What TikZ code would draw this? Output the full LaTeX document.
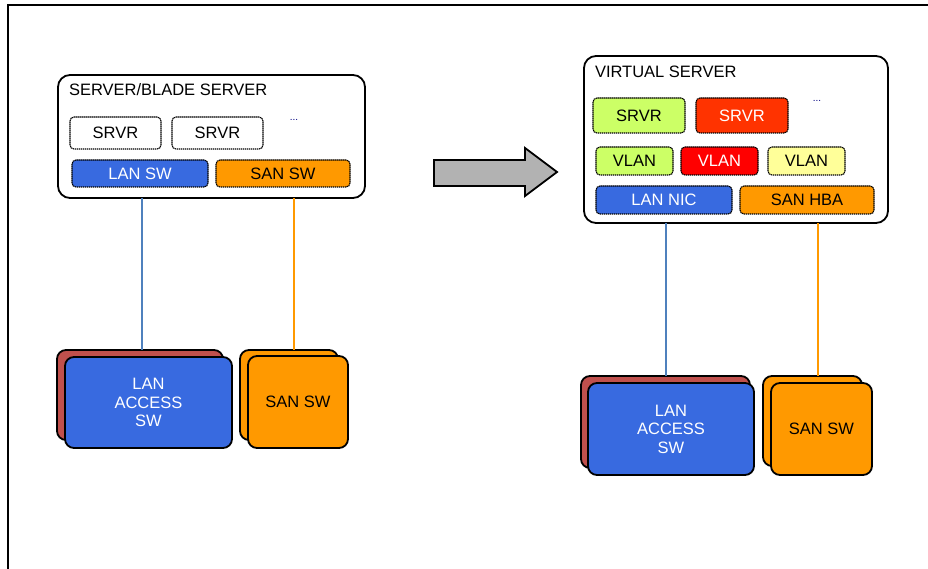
\documentclass[tikz,border=0pt]{standalone}
\usepackage{fontspec}
\setmainfont{Liberation Sans}
\usepackage{xcolor}
\usetikzlibrary{positioning}
\definecolor{lanblue}{RGB}{56,106,224}
\definecolor{sanorange}{RGB}{255,153,0}
\definecolor{brick}{RGB}{192,80,77}
\definecolor{lime}{RGB}{204,255,102}
\definecolor{srvred}{RGB}{255,51,0}
\definecolor{vlanred}{RGB}{255,0,0}
\definecolor{paleyellow}{RGB}{255,255,153}
\definecolor{lineblue}{RGB}{79,129,189}
\definecolor{arrowgray}{RGB}{178,178,178}

\begin{document}
\begin{tikzpicture}[x=1pt,y=-1pt,every node/.style={font=\fontsize{16.5}{18.5}\selectfont,outer sep=0pt,inner sep=0pt},
    hostbox/.style={draw,line width=1.8pt,rounded corners=12pt},
    unitbox/.style={draw,line width=1.1pt,dash pattern=on 1.4pt off 0.6pt,rounded corners=4pt},
    stackbox/.style={draw,line width=1.8pt,rounded corners=9pt},
    link/.style={line width=1.8pt}]
    \useasboundingbox (0,0) rectangle (928,569);
    \draw[line width=1.2pt] (8,569) -- (8,5) -- (928,5);

    % physical server
    \node[hostbox,minimum width=307pt,minimum height=123pt] (lsrv) at (211.5,136.5) {};
    \node[anchor=west] (ltitle) at (69,90) {SERVER/BLADE SERVER};
    \node[unitbox,minimum width=91pt,minimum height=32pt] (srvra) at (115.5,133) {SRVR};
    \node[unitbox,minimum width=91pt,minimum height=32pt] (srvrb) at (217.5,133) {SRVR};
    \node[text=blue!50!black,font=\fontsize{10}{11}\selectfont] (ldots) at (294,120) {...};
    \node[unitbox,fill=lanblue,text=white,minimum width=136pt,minimum height=27pt] (lansw) at (140,173.5) {LAN SW};
    \node[unitbox,fill=sanorange,minimum width=134pt,minimum height=27pt] (sansw) at (283,173.5) {SAN SW};

    \node[stackbox,fill=brick,minimum width=166pt,minimum height=90pt] (laccb) at (140,395) {};
    \node[stackbox,fill=lanblue,text=white,align=center,minimum width=167pt,minimum height=91pt] (laccf) at (148.5,402.5) {LAN\\ACCESS\\SW};
    \node[stackbox,fill=sanorange,minimum width=98pt,minimum height=90pt] (lsanb) at (289,395) {};
    \node[stackbox,fill=sanorange,minimum width=100pt,minimum height=92pt] (lsanf) at (298,402) {SAN SW};

    \draw[link,lineblue] ([xshift=2pt]laccb.north |- lsrv.south) -- ([xshift=2pt]laccb.north);
    \draw[link,sanorange] ([xshift=5pt]lsanb.north |- lsrv.south) -- ([xshift=5pt]lsanb.north);

    % migration arrow
    \draw[line width=1.8pt,fill=arrowgray] (434,160) -- (525,160) -- (525,148) -- (557,172) -- (525,196) -- (525,186) -- (434,186) -- cycle;

    % virtual server
    \node[hostbox,minimum width=304pt,minimum height=167pt] (vsrv) at (736,139.5) {};
    \node[anchor=west] (vtitle) at (595,72) {VIRTUAL SERVER};
    \node[unitbox,fill=lime,minimum width=92pt,minimum height=35pt] (vsrvra) at (639,115.5) {SRVR};
    \node[unitbox,fill=srvred,text=white,minimum width=92pt,minimum height=35pt] (vsrvrb) at (742,115.5) {SRVR};
    \node[text=blue!50!black,font=\fontsize{10}{11}\selectfont] (vdots) at (817,101) {...};
    \node[unitbox,fill=lime,minimum width=77pt,minimum height=28pt] (vlana) at (634.5,161) {VLAN};
    \node[unitbox,fill=vlanred,text=white,minimum width=77pt,minimum height=28pt] (vlanb) at (719.5,161) {VLAN};
    \node[unitbox,fill=paleyellow,minimum width=77pt,minimum height=28pt] (vlanc) at (806.5,161) {VLAN};
    \node[unitbox,fill=lanblue,text=white,minimum width=136pt,minimum height=28pt] (lannic) at (664,200) {LAN NIC};
    \node[unitbox,fill=sanorange,minimum width=134pt,minimum height=28pt] (sanhba) at (807,200) {SAN HBA};

    \node[stackbox,fill=brick,minimum width=169pt,minimum height=92pt] (raccb) at (665.5,422) {};
    \node[stackbox,fill=lanblue,text=white,align=center,minimum width=166pt,minimum height=92pt] (raccf) at (671,429) {LAN\\ACCESS\\SW};
    \node[stackbox,fill=sanorange,minimum width=99pt,minimum height=90pt] (rsanb) at (812.5,421) {};
    \node[stackbox,fill=sanorange,minimum width=101pt,minimum height=92pt] (rsanf) at (821.5,429) {SAN SW};

    \draw[link,lineblue] ([xshift=0.5pt]raccb.north |- vsrv.south) -- ([xshift=0.5pt]raccb.north);
    \draw[link,sanorange] ([xshift=5.5pt]rsanb.north |- vsrv.south) -- ([xshift=5.5pt]rsanb.north);
  \end{tikzpicture}
\end{document}
